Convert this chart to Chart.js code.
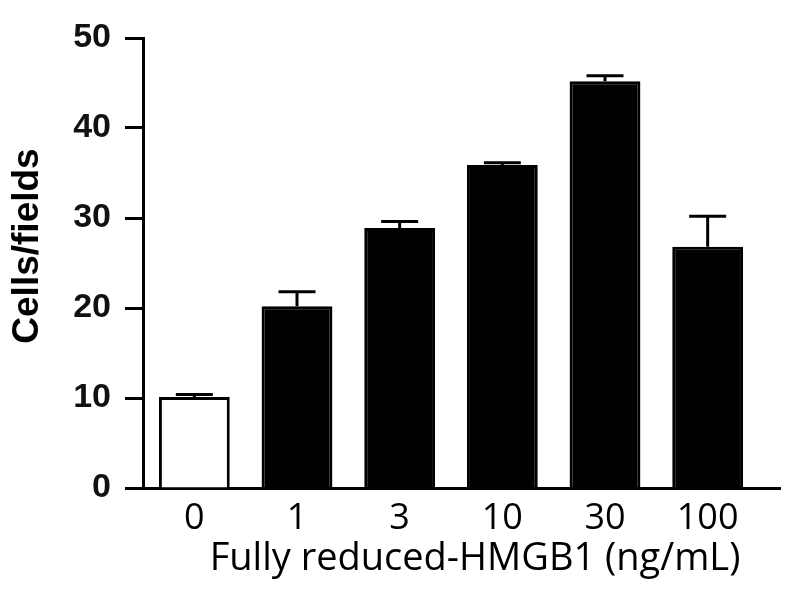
<!DOCTYPE html>
<html>
<head>
<meta charset="utf-8">
<script src="https://cdn.jsdelivr.net/npm/chart.js@4.4.1/dist/chart.umd.min.js"></script>
<style>
  body { margin: 0; background: #fff; }
  #chart { display: block; }
</style>
</head>
<body>
<canvas id="chart" width="800" height="600"></canvas>
<script>
// Data
const doses = ['0', '1', '3', '10', '30', '100'];
const cellsPerField = [10.1, 20.2, 28.9, 35.9, 45.2, 26.8];
const errorUpper = [10.4, 21.8, 29.6, 36.15, 45.8, 30.2];
const barFills = ['#ffffff', '#000000', '#000000', '#000000', '#000000', '#000000'];
const yTicks = [0, 10, 20, 30, 40, 50];
const xTitle = 'Fully reduced-HMGB1 (ng/mL)';
const yTitle = 'Cells/fields';

// Upper whiskers drawn through the y scale
const errorBarPlugin = {
    id: 'errorBars',
    afterDatasetsDraw(chart) {
        const ctx = chart.ctx;
        const yScale = chart.scales.y;
        const meta = chart.getDatasetMeta(0);
        ctx.save();
        ctx.strokeStyle = '#000';
        ctx.lineWidth = 3;
        meta.data.forEach(function(bar, i) {
            const yTop = bar.y;
            const yErr = yScale.getPixelForValue(errorUpper[i]);
            ctx.beginPath();
            ctx.moveTo(bar.x, yTop);
            ctx.lineTo(bar.x, yErr);
            ctx.moveTo(bar.x - 18.5, yErr);
            ctx.lineTo(bar.x + 18.5, yErr);
            ctx.stroke();
        });
        ctx.restore();
    }
};

// Axis titles sit a bit off centre in the original, and the x axis
// line runs a little past the last bar
const axisExtrasPlugin = {
    id: 'axisExtras',
    afterDraw(chart) {
        const ctx = chart.ctx;
        const area = chart.chartArea;
        ctx.save();
        ctx.strokeStyle = '#000';
        ctx.lineWidth = 3;
        ctx.beginPath();
        ctx.moveTo(area.right - 2, area.bottom + 0.5);
        ctx.lineTo(area.right + 22, area.bottom + 0.5);
        ctx.stroke();

        ctx.fillStyle = '#000';
        ctx.textAlign = 'center';
        ctx.textBaseline = 'alphabetic';
        ctx.font = '38px "Open Sans"';
        ctx.fillText(xTitle, area.left + 332, area.bottom + 82);

        ctx.translate(area.left - 105, (area.top + area.bottom) / 2 - 17);
        ctx.rotate(-Math.PI / 2);
        ctx.font = 'bold 37px "Liberation Sans"';
        ctx.fillText(yTitle, 0, 0);
        ctx.restore();
    }
};

new Chart(document.getElementById('chart'), {
    type: 'bar',
    data: {
        labels: doses,
        datasets: [{
            data: cellsPerField,
            backgroundColor: barFills,
            borderColor: '#000',
            borderWidth: 3,
            borderSkipped: 'bottom',
            barPercentage: 0.69,
            categoryPercentage: 1
        }]
    },
    options: {
        responsive: false,
        animation: false,
        layout: {
            padding: { left: 0, right: 41, top: 38, bottom: 0 }
        },
        plugins: {
            legend: { display: false },
            tooltip: { enabled: false }
        },
        scales: {
            x: {
                grid: { display: false, drawTicks: false },
                border: { display: true, color: '#000', width: 3 },
                ticks: {
                    color: '#000',
                    font: { family: 'Open Sans', size: 36 },
                    padding: 9
                },
                afterFit(scale) { scale.height = 112; }
            },
            y: {
                min: 0,
                max: 50,
                afterBuildTicks(scale) {
                    scale.ticks = yTicks.map(v => ({ value: v }));
                },
                grid: {
                    drawOnChartArea: false,
                    drawTicks: true,
                    tickLength: 18,
                    tickWidth: 3,
                    tickColor: '#000'
                },
                border: { display: true, color: '#000', width: 3 },
                ticks: {
                    color: '#111',
                    font: { family: 'Liberation Sans', size: 34, weight: 'bold' },
                    padding: 14
                },
                afterFit(scale) { scale.width = 143; }
            }
        }
    },
    plugins: [errorBarPlugin, axisExtrasPlugin]
});
</script>
</body>
</html>
